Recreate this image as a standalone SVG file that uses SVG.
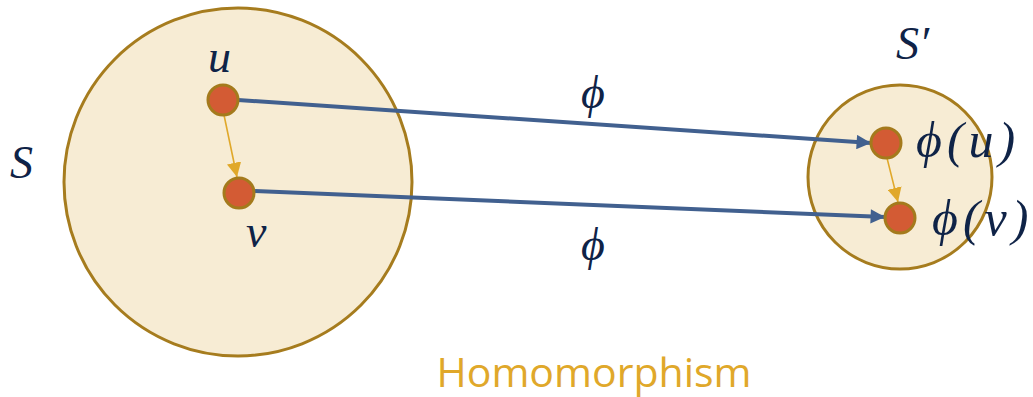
<svg xmlns="http://www.w3.org/2000/svg" width="1033" height="397" viewBox="0 0 1033 397">
  <style>
    .set { fill: #F7ECD4; stroke: #A67C1E; stroke-width: 3; }
    .node { fill: #D35B34; stroke: #A47A1C; stroke-width: 3; }
    .map { stroke: #41608F; stroke-width: 4; fill: none; }
    .rel { stroke: #E0A82A; stroke-width: 1.6; fill: none; }
    .math { font-family: "Liberation Serif", "DejaVu Serif", serif; font-style: italic; fill: #0F2347; font-size: 46px; }
    .fn { font-size: 50px; letter-spacing: 5px; }
    .title { font-family: "Open Sans", "Noto Sans", sans-serif; fill: #E0A82A; }
  </style>
  <defs>
    <marker id="blueHead" viewBox="0 0 10 10" refX="10" refY="5" markerWidth="4.2" markerHeight="3.6" markerUnits="strokeWidth" orient="auto">
      <path d="M0,0 L10,5 L0,10 Z" fill="#41608F"/>
    </marker>
    <marker id="orangeHead" viewBox="0 0 10 10" refX="10" refY="5" markerWidth="9" markerHeight="9" markerUnits="strokeWidth" orient="auto">
      <path d="M0,0 L10,5 L0,10 Z" fill="#E0A82A"/>
    </marker>
  </defs>
  <rect width="1033" height="397" fill="#FFFFFF"/>

  <g id="set-S">
    <circle class="set" cx="238" cy="182" r="174"/>
    <text class="math" x="10" y="178">S</text>
  </g>
  <g id="set-S-prime">
    <circle class="set" cx="900" cy="177" r="92"/>
    <text class="math" x="896" y="59">S′</text>
  </g>

  <g id="connectors">
    <line class="map" x1="238" y1="100" x2="871" y2="143" marker-end="url(#blueHead)"/>
    <line class="map" x1="255" y1="191" x2="885" y2="217" marker-end="url(#blueHead)"/>
    <line class="rel" x1="224" y1="115" x2="237" y2="177" marker-end="url(#orangeHead)"/>
    <line class="rel" x1="887" y1="158" x2="898" y2="202" marker-end="url(#orangeHead)"/>
    <text class="math" x="581" y="108">ϕ</text>
    <text class="math" x="581" y="260">ϕ</text>
  </g>

  <g id="node-u">
    <circle class="node" cx="223" cy="100" r="15"/>
    <text class="math" x="208" y="72">u</text>
  </g>
  <g id="node-v">
    <circle class="node" cx="239" cy="193" r="15"/>
    <text class="math" x="246" y="247">v</text>
  </g>
  <g id="node-phi-u">
    <circle class="node" cx="886" cy="143" r="15"/>
    <text class="math fn" x="916" y="157">ϕ(u)</text>
  </g>
  <g id="node-phi-v">
    <circle class="node" cx="900" cy="218" r="15"/>
    <text class="math fn" x="932" y="235">ϕ(v)</text>
  </g>

  <g id="caption">
    <text class="title" x="594" y="387" font-size="41" text-anchor="middle">Homomorphism</text>
  </g>
</svg>
